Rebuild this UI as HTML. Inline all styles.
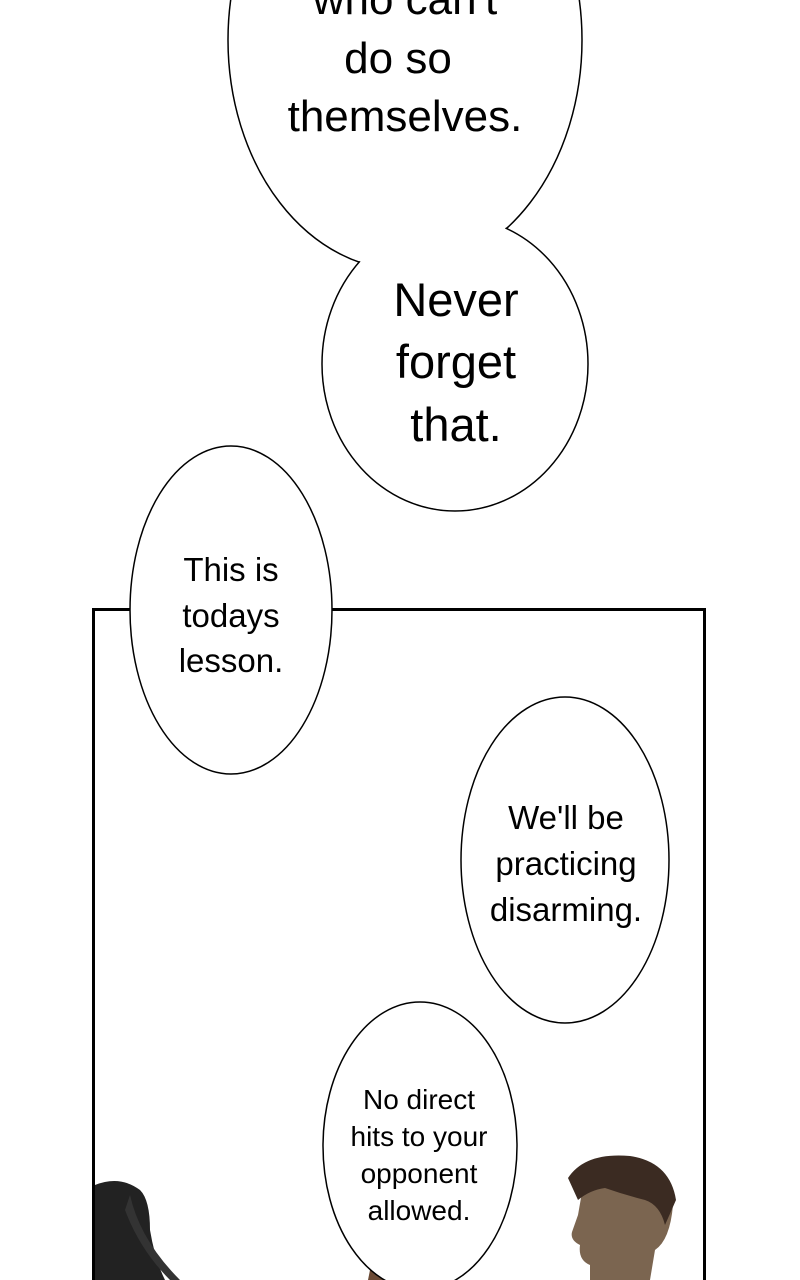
<!DOCTYPE html>
<html><head><style>
html,body{margin:0;padding:0;background:#fff;}
svg{display:block;}
text{font-family:"Liberation Sans",sans-serif;fill:#000;text-anchor:middle;}
</style></head><body>
<svg width="800" height="1280" viewBox="0 0 800 1280" xmlns="http://www.w3.org/2000/svg">
<rect width="800" height="1280" fill="#fff"/>
<!-- top joined bubbles -->
<ellipse cx="405" cy="40" rx="177" ry="230" fill="#fff" stroke="#000" stroke-width="1.5"/>
<ellipse cx="455" cy="364" rx="133" ry="147" fill="#fff" stroke="#000" stroke-width="1.5"/>
<ellipse cx="405" cy="40" rx="176" ry="229" fill="#fff"/>
<ellipse cx="455" cy="364" rx="132" ry="146" fill="#fff"/>
<text x="405" y="14" font-size="44">who can't</text>
<text x="398" y="73" font-size="44">do so</text>
<text x="405" y="131" font-size="44">themselves.</text>
<text x="456" y="316" font-size="47">Never</text>
<text x="456" y="378" font-size="47">forget</text>
<text x="456" y="441" font-size="47">that.</text>
<!-- panel -->
<rect x="93.5" y="609.5" width="611" height="700" fill="#fff" stroke="#000" stroke-width="3"/>
<!-- characters -->
<path d="M95 1185 Q120 1175 140 1190 Q150 1200 150 1230 Q155 1260 165 1280 L95 1280 Z" fill="#222"/>
<path d="M130 1195 Q140 1240 180 1280 L170 1280 Q140 1250 125 1210 Z" fill="#333"/>
<path d="M370 1270 Q380 1262 395 1268 L395 1280 L368 1280 Z" fill="#6b4a35"/>
<path d="M585 1175 Q600 1155 640 1160 Q672 1170 673 1205 Q670 1240 655 1250 L650 1280 L590 1280 L590 1265 Q578 1260 580 1245 Q570 1240 572 1232 L578 1215 Z" fill="#7b6550"/>
<path d="M568 1178 Q585 1152 630 1156 Q670 1162 676 1200 L665 1225 Q660 1205 645 1200 Q625 1195 605 1188 Q590 1190 578 1200 Z" fill="#3b2b22"/>
<!-- bubbles -->
<ellipse cx="231" cy="610" rx="101" ry="164" fill="#fff" stroke="#000" stroke-width="1.5"/>
<text x="231" y="581" font-size="33">This is</text>
<text x="231" y="627" font-size="33">todays</text>
<text x="231" y="672" font-size="33">lesson.</text>
<ellipse cx="565" cy="860" rx="104" ry="163" fill="#fff" stroke="#000" stroke-width="1.5"/>
<text x="566" y="829" font-size="33">We'll be</text>
<text x="566" y="875" font-size="33">practicing</text>
<text x="566" y="921" font-size="33">disarming.</text>
<ellipse cx="420" cy="1146" rx="97" ry="144" fill="#fff" stroke="#000" stroke-width="1.5"/>
<text x="419" y="1109" font-size="28">No direct</text>
<text x="419" y="1146" font-size="28">hits to your</text>
<text x="419" y="1183" font-size="28">opponent</text>
<text x="419" y="1220" font-size="28">allowed.</text>
</svg>
</body></html>
